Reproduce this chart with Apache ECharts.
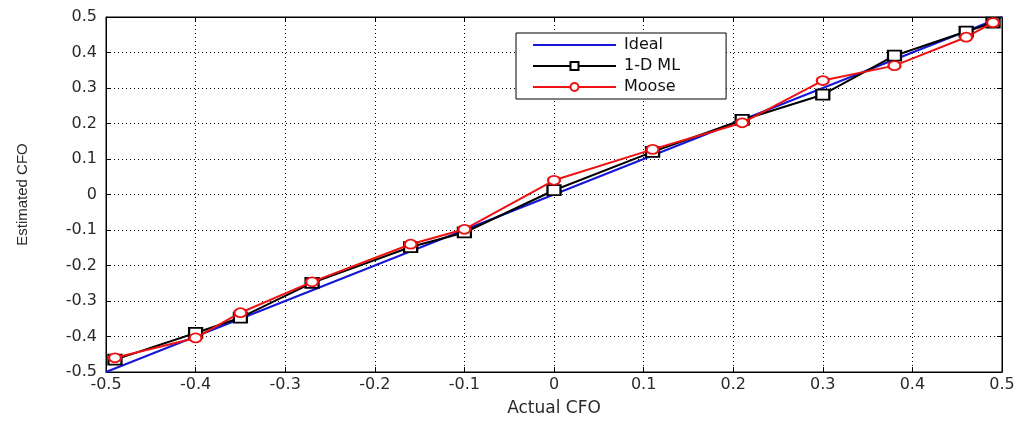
<!DOCTYPE html>
<html>
<head>
<meta charset="utf-8">
<script src="https://cdn.jsdelivr.net/npm/echarts@6/dist/echarts.min.js"></script>
<style>
  html, body { margin: 0; padding: 0; background: #fff; }
  #chart { width: 1022px; height: 422px; }
</style>
</head>
<body>
<div id="chart"></div>
<script>
// values
const actualCFO = [-0.49, -0.4, -0.35, -0.27, -0.16, -0.1, 0, 0.11, 0.21, 0.3, 0.38, 0.46, 0.49];
const mlEstimate = [-0.465, -0.39, -0.347, -0.249, -0.148, -0.107, 0.012, 0.12, 0.21, 0.281, 0.391, 0.459, 0.484];
const mooseEstimate = [-0.46, -0.404, -0.333, -0.246, -0.14, -0.098, 0.04, 0.127, 0.202, 0.321, 0.363, 0.443, 0.484];
const idealX = [-0.5, 0.5];
const idealY = [-0.5, 0.5];
const xTicks = { min: -0.5, max: 0.5, step: 0.1 };
const yTicks = { min: -0.5, max: 0.5, step: 0.1 };

const pairs = (xs, ys) => xs.map((x, i) => [x, ys[i]]);
const font = 'DejaVu Sans';

const chart = echarts.init(document.getElementById('chart'));

const axisCommon = {
  type: 'value',
  axisLine: { show: true, onZero: false, lineStyle: { color: '#000', width: 1 } },
  axisTick: { show: true, inside: true, length: 5, lineStyle: { color: '#000' } },
  splitLine: { show: true, lineStyle: { color: '#000', type: [1, 3], width: 1 } },
  axisLabel: { color: '#2a2a2a', fontSize: 16, fontFamily: font },
};

// mirrored axes on top / right: ticks only, like the MATLAB box
const mirror = {
  ...axisCommon,
  axisLabel: { show: false },
  splitLine: { show: false },
};

chart.setOption({
  animation: false,
  backgroundColor: '#fff',
  grid: {
    left: 106, right: 20, top: 17, bottom: 39,
    show: true, borderColor: '#000', borderWidth: 1,
  },
  legend: {
    orient: 'vertical',
    left: 516, top: 33,
    padding: [4, 46, 4, 16],
    itemWidth: 83, itemHeight: 10, itemGap: 5,
    backgroundColor: '#fff',
    borderColor: '#000', borderWidth: 1, borderRadius: 0,
    textStyle: { color: '#111', fontSize: 16, fontFamily: font, padding: [0, 0, 0, 3] },
    data: [
      { name: 'Ideal', itemStyle: { opacity: 0 } },
      '1-D ML',
      'Moose',
    ],
  },
  xAxis: [
    {
      ...axisCommon,
      min: xTicks.min, max: xTicks.max, interval: xTicks.step,
      name: 'Actual CFO',
      nameLocation: 'middle', nameGap: 28,
      nameTextStyle: { color: '#2a2a2a', fontSize: 17, fontFamily: font },
      axisLabel: { ...axisCommon.axisLabel, margin: 5 },
    },
    { ...mirror, position: 'top', min: xTicks.min, max: xTicks.max, interval: xTicks.step },
  ],
  yAxis: [
    {
      ...axisCommon,
      min: yTicks.min, max: yTicks.max, interval: yTicks.step,
      name: 'Estimated CFO',
      nameLocation: 'middle', nameGap: 76,
      nameTextStyle: { color: '#2a2a2a', fontSize: 15, fontFamily: 'Liberation Sans' },
      axisLabel: { ...axisCommon.axisLabel, margin: 9 },
    },
    { ...mirror, position: 'right', min: yTicks.min, max: yTicks.max, interval: yTicks.step },
  ],
  series: [
    {
      name: 'Ideal',
      type: 'line',
      data: pairs(idealX, idealY),
      symbol: 'none',
      lineStyle: { color: '#1515d8', width: 2 },
      itemStyle: { color: '#1515d8' },
      z: 2,
    },
    {
      name: '1-D ML',
      type: 'line',
      data: pairs(actualCFO, mlEstimate),
      symbol: 'emptyRect',
      symbolSize: [13, 10],
      lineStyle: { color: '#000', width: 2 },
      itemStyle: { color: '#000', borderColor: '#000', borderWidth: 2 },
      z: 3,
    },
    {
      name: 'Moose',
      type: 'line',
      data: pairs(actualCFO, mooseEstimate),
      symbol: 'emptyCircle',
      symbolSize: [12, 9],
      lineStyle: { color: '#ee1111', width: 2 },
      itemStyle: { color: '#ee1111', borderColor: '#ee1111', borderWidth: 2 },
      z: 4,
    },
  ],
});
</script>
</body>
</html>
